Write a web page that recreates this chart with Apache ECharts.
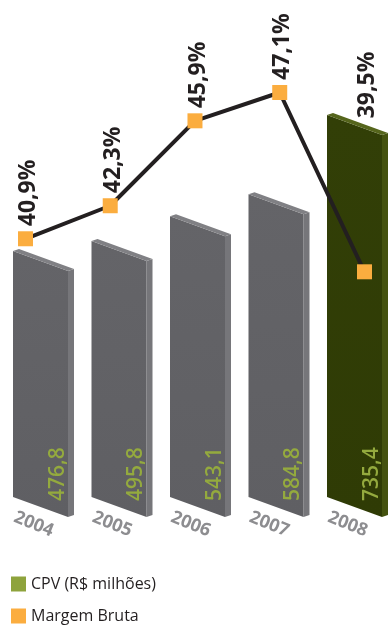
<!DOCTYPE html>
<html>
<head>
<meta charset="utf-8">
<script src="https://cdn.jsdelivr.net/npm/echarts@6/dist/echarts.min.js"></script>
<style>
html,body{margin:0;padding:0;background:#fff;}
#chart{width:389px;height:626px;}
</style>
</head>
<body>
<div id="chart"></div>
<script>
const years = ['2004', '2005', '2006', '2007', '2008'];
const cpv = [476.8, 495.8, 543.1, 584.8, 735.4];
const margem = [40.9, 42.3, 45.9, 47.1, 39.5];
const legendNames = ['CPV (R$ milhões)', 'Margem Bruta'];

const fmt = v => v.toFixed(1).replace('.', ',');
const FONT = '"Open Sans", "Noto Sans", sans-serif';

const chart = echarts.init(document.getElementById('chart'), null, {renderer: 'canvas'});

function renderBar(params, api) {
  const i = api.value(0);
  const v = api.value(1);
  const top = api.coord([i, v]);
  const base = api.coord([i, 0]);
  const last = i === cpv.length - 1;
  const xl = top[0] - 30;
  const xf = xl + 55;
  const yT = top[1];
  const yB = base[1] - 5;
  const drop = 20;
  const dx = 6, dy = -2;
  const front = last ? '#2f3b05' : '#5f5f63';
  const frontTop = last ? '#323f07' : '#646468';
  const side = last ? '#44520f' : '#76767a';
  const topc = last ? '#55651c' : '#808084';
  return {
    type: 'group',
    children: [
      {type: 'polygon', shape: {points: [[xf, yT + drop], [xf + dx, yT + drop + dy], [xf + dx, yB + drop + dy], [xf, yB + drop]]},
        style: {fill: side}},
      {type: 'polygon', shape: {points: [[xl, yT], [xf, yT + drop], [xf, yB + drop], [xl, yB]]},
        style: {fill: new echarts.graphic.LinearGradient(0, 0, 0, 1, [{offset: 0, color: frontTop}, {offset: 1, color: front}])}},
      {type: 'polygon', shape: {points: [[xl, yT], [xl + dx, yT + dy], [xf + dx, yT + drop + dy], [xf, yT + drop]]},
        style: {fill: topc}},
      {type: 'text', x: top[0] + 15, y: yB + 4, rotation: Math.PI / 2,
        style: {text: fmt(v), fill: '#94aa3e', fontSize: 21, fontWeight: 600, fontFamily: FONT, align: 'left', verticalAlign: 'middle'}}
    ]
  };
}

const lineData = margem.map((v, i) => {
  const d = {value: v};
  if (i === margem.length - 1) d.label = {offset: [141, 3]};
  return d;
});

const option = {
  backgroundColor: '#ffffff',
  animation: false,
  grid: [
    {left: 3.75, width: 392.5, top: 81, height: 421, containLabel: false, outerBoundsMode: 'none'},
    {left: -16.9, width: 423.75, top: 24.1, height: 471.8, containLabel: false, outerBoundsMode: 'none'}
  ],
  xAxis: [
    {type: 'category', gridIndex: 0, data: years, boundaryGap: true,
      axisLine: {show: false}, axisTick: {show: false}, splitLine: {show: false},
      axisLabel: {interval: 0, hideOverlap: false, rotate: -22, align: 'center', verticalAlign: 'middle', margin: 26,
        padding: [0, 20, 0, 0], color: '#8d8d90', fontSize: 18, fontWeight: 'bold', fontFamily: FONT}},
    {type: 'category', gridIndex: 1, data: years, boundaryGap: true, show: false}
  ],
  yAxis: [
    {type: 'value', gridIndex: 0, min: 0, max: 800, show: false, splitLine: {show: false}},
    {type: 'value', gridIndex: 1, min: 30, max: 50, show: false, splitLine: {show: false}}
  ],
  legend: {
    orient: 'vertical', left: 11, top: 576, padding: 0, itemWidth: 15, itemHeight: 15, itemGap: 16,
    textStyle: {fontSize: 16, color: '#231f20', fontFamily: FONT},
    data: [
      {name: legendNames[0], icon: 'rect', itemStyle: {color: '#8ea33c'}},
      {name: legendNames[1], icon: 'rect', itemStyle: {color: '#fbad3f'}}
    ]
  },
  series: [
    {name: legendNames[0], type: 'custom', xAxisIndex: 0, yAxisIndex: 0,
      itemStyle: {color: '#8ea33c'},
      data: cpv.map((v, i) => [i, v]), encode: {x: 0, y: 1},
      renderItem: renderBar, z: 2},
    {name: legendNames[1], type: 'line', xAxisIndex: 1, yAxisIndex: 1, data: lineData, z: 3,
      symbol: 'rect', symbolSize: 15, showAllSymbol: true,
      itemStyle: {color: '#fbad3f'},
      lineStyle: {color: '#231f20', width: 4},
      label: {show: true, position: 'top', rotate: 90, align: 'left', verticalAlign: 'middle', distance: 5, offset: [0, 3],
        formatter: p => fmt(p.value) + '%', fontSize: 23, fontWeight: 'bold', color: '#231f20', fontFamily: FONT}}
  ]
};
chart.setOption(option);
</script>
</body>
</html>
